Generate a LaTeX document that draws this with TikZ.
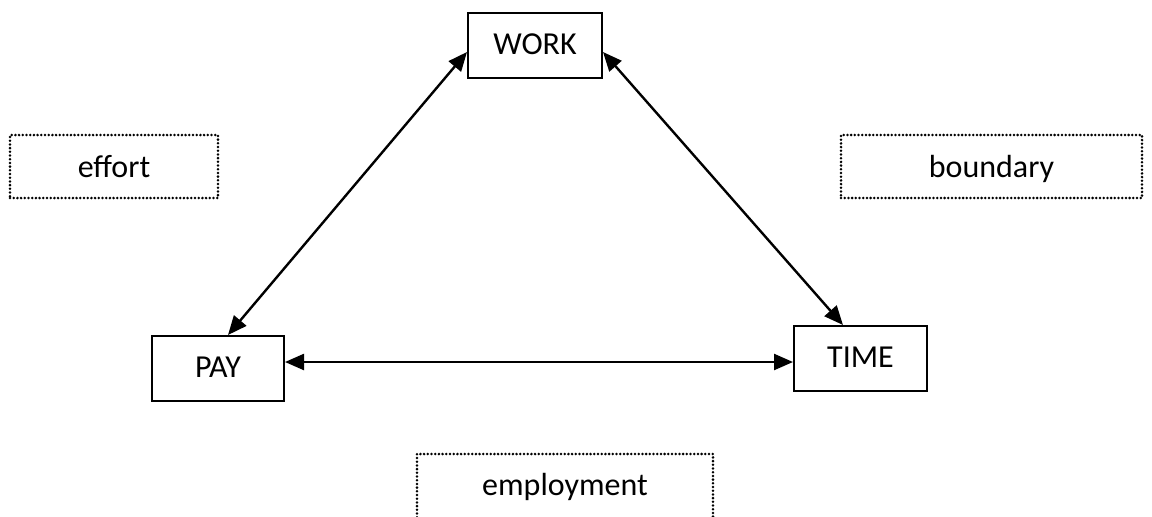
\documentclass[tikz,border=0pt]{standalone}
\usepackage{fontspec}
\setmainfont{Carlito}
\usetikzlibrary{arrows.meta}
\begin{document}
\begin{tikzpicture}[x=1pt,y=-1pt,
  every node/.style={font=\fontsize{32}{36}\selectfont, inner sep=0pt},
  solidbox/.style={draw, line width=2pt, minimum width=#1, minimum height=65pt, text height=22pt, text depth=4pt},
  dotbox/.style={draw, line width=2.8pt, line cap=round, dash pattern=on 0pt off 3.7pt, minimum width=#1, minimum height=63pt, text height=24pt, text depth=3pt},
  link/.style={line width=2.4pt, {Triangle[length=19pt,width=16pt]}-{Triangle[length=19pt,width=16pt]}}
]
\useasboundingbox (0,0) rectangle (1152,517);
\begin{scope}
\clip (0,0) rectangle (1152,517);
% the three linked concepts
\node[solidbox=134pt] (work) at (535,45.5) {WORK};
\node[solidbox=132pt] (pay)  at (218,368.5) {PAY};
\node[solidbox=133pt] (time) at (860.5,358.5) {TIME};
% the frontier labels
\node[dotbox=208pt] (effort)   at (114,166.5) {effort};
\node[dotbox=301pt] (boundary) at (991.5,166.5) {boundary};
\node[dotbox=296pt, minimum height=70pt] (employment) at (565,489) {};
\node[anchor=base] (employmenttext) at (565,495) {employment};
% two-way relations
\draw[link] ([yshift=-6.5pt]work.west) -- ([xshift=10pt]pay.north);
\draw[link] ([yshift=-6.5pt]work.east) -- ([xshift=-17.5pt]time.north);
\draw[link] ([yshift=6.5pt]pay.east) -- ([yshift=-3.5pt]time.west);
\end{scope}
\end{tikzpicture}
\end{document}
